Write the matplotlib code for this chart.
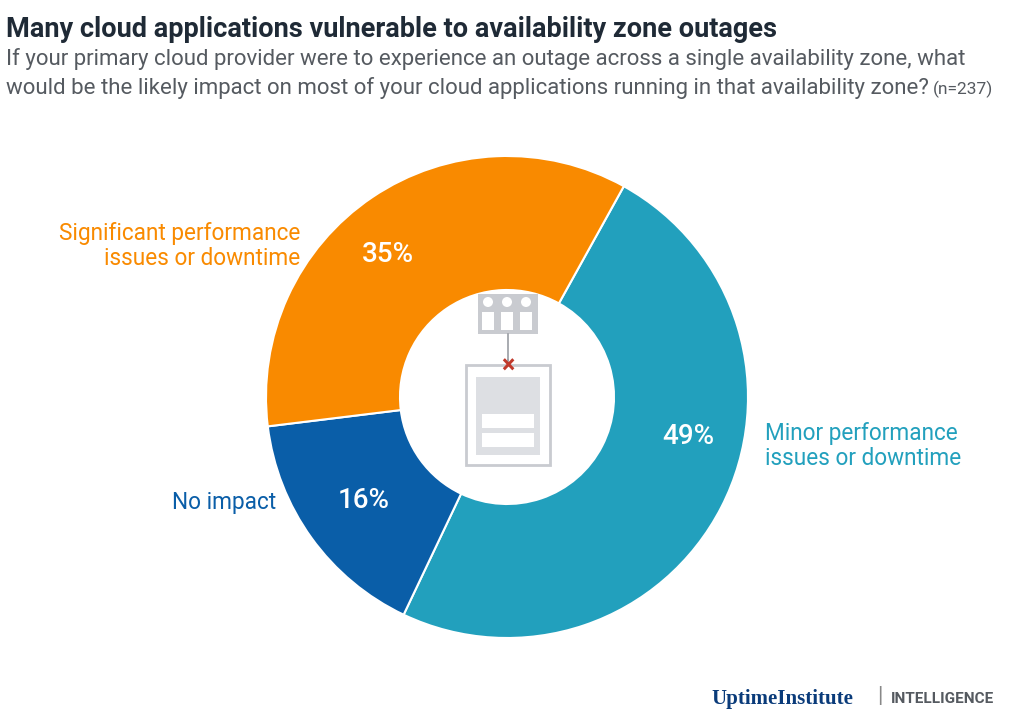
import matplotlib
matplotlib.use("Agg")
import matplotlib.pyplot as plt
from matplotlib.patches import Rectangle, Circle

categories = ["Minor performance\nissues or downtime", "No impact", "Significant performance\nissues or downtime"]
values = [49, 16, 35]
colors = ["#22a0bd", "#0a5ea8", "#f98a00"]

plt.rcParams["font.family"] = "Roboto"
fig = plt.figure(figsize=(10.24, 7.23), dpi=100)
ax = fig.add_axes([0, 0, 1, 1])

cx, cy, R = 507, 723 - 397, 241
ax.pie(values, colors=colors, startangle=61, counterclock=False, center=(cx, cy),
       radius=R, wedgeprops=dict(width=R - 107, edgecolor="white", linewidth=1.5), frame=True)
ax.set_xlim(0, 1024); ax.set_ylim(0, 723); ax.set_aspect("equal"); ax.axis("off")

pct_pos = [(688, 723 - 437), (364, 723 - 501), (388, 723 - 254)]
for v, (x, y) in zip(values, pct_pos):
    ax.text(x, y, f"{v}%", color="white", fontsize=20, ha="center", va="center", fontweight="medium")

ax.text(765, 723 - 446, categories[0], color="#22a0bd", fontsize=16.3, ha="left", va="center", linespacing=1.1)
ax.text(276, 723 - 503, categories[1], color="#0a5ea8", fontsize=16.3, ha="right", va="center")
ax.text(300, 723 - 246, categories[2], color="#f98a00", fontsize=16.3, ha="right", va="center", linespacing=1.1)

# central icon
g = "#c9cbd0"
ax.add_patch(Rectangle((478, 723 - 334), 60, 40, facecolor=g, edgecolor="none"))
for dx in [488, 507, 526]:
    ax.add_patch(Circle((dx, 723 - 302), 5, facecolor="white"))
    ax.add_patch(Rectangle((dx - 6, 723 - 330), 12, 18, facecolor="white"))
ax.plot([508, 508], [723 - 334, 723 - 360], color="#9a9da3", lw=1.2)
ax.add_patch(Rectangle((466, 723 - 465), 84, 100, facecolor="none", edgecolor=g, lw=2))
ax.add_patch(Rectangle((476, 723 - 455), 64, 78, facecolor="#dddfe3", edgecolor="none"))
ax.add_patch(Rectangle((482, 723 - 428), 52, 14, facecolor="white"))
ax.add_patch(Rectangle((482, 723 - 447), 52, 14, facecolor="white"))
ax.plot([508, 508], [723 - 360, 723 - 365], color="#9a9da3", lw=1.2)
ax.text(508, 723 - 367, "×", color="#c0392b", fontsize=18, ha="center", va="center", fontweight="bold")

fig.text(0.006, 0.978, "Many cloud applications vulnerable to availability zone outages", fontsize=19.5,
         fontweight="bold", color="#1f2a36", va="top", ha="left")
fig.text(0.006, 0.934, "If your primary cloud provider were to experience an outage across a single availability zone, what",
         fontsize=16, color="#555a60", va="top", ha="left")
t2 = fig.text(0.006, 0.893, "would be the likely impact on most of your cloud applications running in that availability zone?",
              fontsize=16, color="#555a60", va="top", ha="left")
fig.canvas.draw()
bb = t2.get_window_extent()
fig.text(bb.x1 / 1024 + 0.004, 0.889, "(n=237)", fontsize=12.5, color="#555a60", va="top", ha="left")

fig.text(0.695, 0.02, "UptimeInstitute", fontsize=15, color="#0a3b7a", fontweight="bold", family="Liberation Serif", va="bottom")
fig.text(0.857, 0.022, "|", fontsize=16, color="#888", va="bottom")
fig.text(0.87, 0.024, "INTELLIGENCE", fontsize=11, color="#555a60", va="bottom", fontweight="bold")

fig.savefig("out.png", dpi=100, facecolor="white")
